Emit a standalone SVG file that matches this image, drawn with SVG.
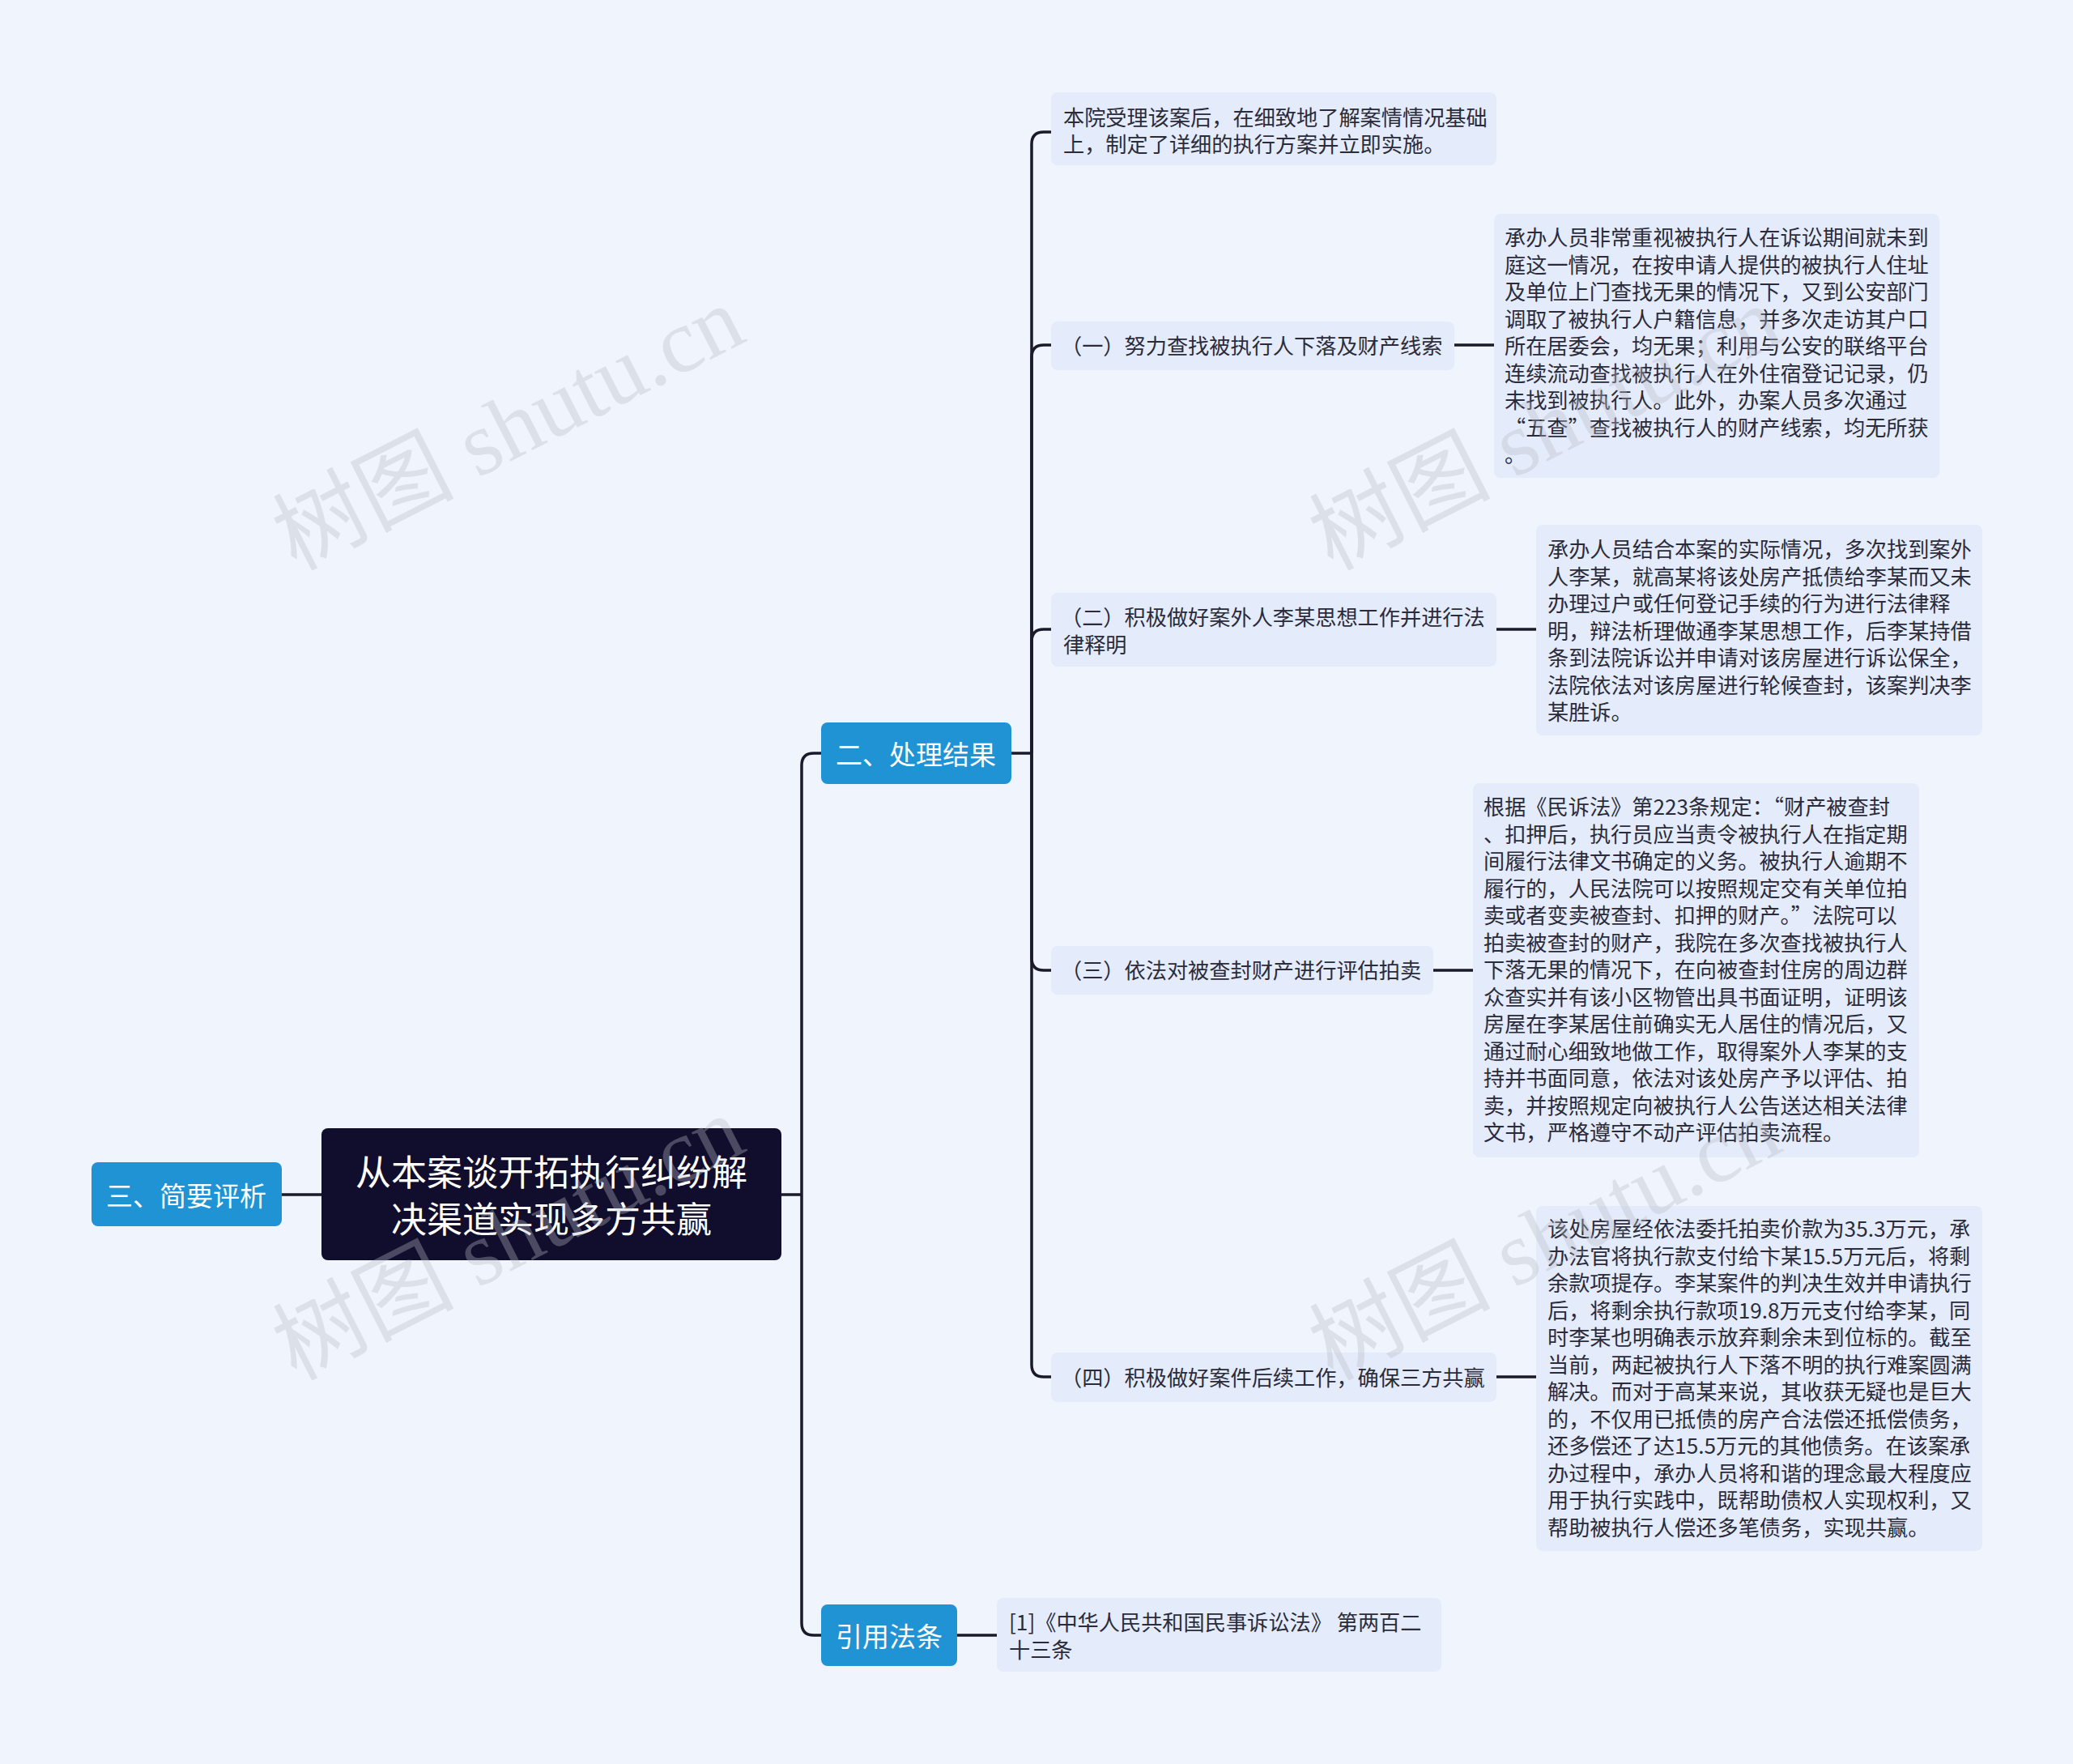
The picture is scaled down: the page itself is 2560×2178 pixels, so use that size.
<svg xmlns="http://www.w3.org/2000/svg" width="2560" height="2178" viewBox="0 0 2560 2178">
<style>
.t{font-family:"Noto Sans CJK SC","Noto Sans",sans-serif;font-size:26.2px;fill:#2b2b3a;dominant-baseline:central}
.leaf{fill:#e4ebfa}
.blue{fill:#1f93d4}
.bt{font-family:"Noto Sans CJK SC","Noto Sans",sans-serif;font-size:33px;fill:#fff;dominant-baseline:central;text-anchor:middle}
.c{fill:none;stroke:#1a1a2a;stroke-width:3.5}
.wm{font-family:"Liberation Serif","Noto Sans CJK SC",serif;font-size:112px;fill:#b8bcc6;opacity:0.35}
</style>
<rect width="2560" height="2178" fill="#f0f4fc"/>
<g id="connectors">
<path class="c" d="M965 1475 H990"/>
<path class="c" d="M990 1475 V945 Q990 930 1005 930 H1014"/>
<path class="c" d="M990 1475 V2004 Q990 2019 1005 2019 H1014"/>
<path class="c" d="M397 1475 H348"/>
<path class="c" d="M1249 930 H1274"/>
<path class="c" d="M1274 930 V178 Q1274 163 1289 163 H1298"/>
<path class="c" d="M1274 930 V441 Q1274 426 1289 426 H1298"/>
<path class="c" d="M1274 930 V792 Q1274 777 1289 777 H1298"/>
<path class="c" d="M1274 930 V1183 Q1274 1198 1289 1198 H1298"/>
<path class="c" d="M1274 930 V1685 Q1274 1700 1289 1700 H1298"/>
<path class="c" d="M1182 2019 H1231"/>
<path class="c" d="M1796 426 H1845"/>
<path class="c" d="M1848 777 H1897"/>
<path class="c" d="M1770 1198 H1819"/>
<path class="c" d="M1848 1700 H1897"/>
</g>
<g id="root">
<rect x="397" y="1393" width="568" height="163" rx="8" fill="#110d2c"/>
<text class="bt" x="681" y="1445" style="font-size:44px">从本案谈开拓执行纠纷解</text>
<text class="bt" x="681" y="1503" style="font-size:44px">决渠道实现多方共赢</text>
</g>
<g id="n-eval"><rect class="blue" x="113" y="1435" width="235" height="79" rx="8"/><text class="bt" x="230" y="1475">三、简要评析</text></g>
<g id="n-result"><rect class="blue" x="1014" y="892" width="235" height="76" rx="8"/><text class="bt" x="1131" y="930">二、处理结果</text></g>
<g id="n-law"><rect class="blue" x="1014" y="1981" width="168" height="76" rx="8"/><text class="bt" x="1098" y="2019">引用法条</text></g>
<g id="n-a"><rect class="leaf" x="1298" y="114" width="550" height="90" rx="8"/>
<text class="t" x="1313" y="144">本院受理该案后，在细致地了解案情情况基础</text>
<text class="t" x="1313" y="177">上，制定了详细的执行方案并立即实施。</text></g>
<g id="n-1"><rect class="leaf" x="1298" y="397" width="498" height="60" rx="8"/>
<text class="t" x="1310" y="426">（一）努力查找被执行人下落及财产线索</text></g>
<g id="d-1"><rect class="leaf" x="1845" y="264" width="550" height="326" rx="8"/>
<text class="t" x="1858" y="292">承办人员非常重视被执行人在诉讼期间就未到</text>
<text class="t" x="1858" y="325.5">庭这一情况，在按申请人提供的被执行人住址</text>
<text class="t" x="1858" y="359">及单位上门查找无果的情况下，又到公安部门</text>
<text class="t" x="1858" y="392.5">调取了被执行人户籍信息，并多次走访其户口</text>
<text class="t" x="1858" y="426">所在居委会，均无果；利用与公安的联络平台</text>
<text class="t" x="1858" y="459.5">连续流动查找被执行人在外住宿登记记录，仍</text>
<text class="t" x="1858" y="493">未找到被执行人。此外，办案人员多次通过</text>
<text class="t" x="1858" y="526.5">“五查”查找被执行人的财产线索，均无所获</text>
<text class="t" x="1858" y="560">。</text></g>
<g id="n-2"><rect class="leaf" x="1298" y="732" width="550" height="91" rx="8"/>
<text class="t" x="1310" y="761">（二）积极做好案外人李某思想工作并进行法</text>
<text class="t" x="1313" y="795">律释明</text></g>
<g id="d-2"><rect class="leaf" x="1897" y="648" width="551" height="260" rx="8"/>
<text class="t" x="1911" y="677">承办人员结合本案的实际情况，多次找到案外</text>
<text class="t" x="1911" y="710.5">人李某，就高某将该处房产抵债给李某而又未</text>
<text class="t" x="1911" y="744">办理过户或任何登记手续的行为进行法律释</text>
<text class="t" x="1911" y="777.5">明，辩法析理做通李某思想工作，后李某持借</text>
<text class="t" x="1911" y="811">条到法院诉讼并申请对该房屋进行诉讼保全，</text>
<text class="t" x="1911" y="844.5">法院依法对该房屋进行轮候查封，该案判决李</text>
<text class="t" x="1911" y="878">某胜诉。</text></g>
<g id="n-3"><rect class="leaf" x="1298" y="1168" width="472" height="60" rx="8"/>
<text class="t" x="1310" y="1197">（三）依法对被查封财产进行评估拍卖</text></g>
<g id="d-3"><rect class="leaf" x="1819" y="967" width="551" height="462" rx="8"/>
<text class="t" x="1832" y="995">根据《民诉法》第223条规定：“财产被查封</text>
<text class="t" x="1832" y="1028.5">、扣押后，执行员应当责令被执行人在指定期</text>
<text class="t" x="1832" y="1062">间履行法律文书确定的义务。被执行人逾期不</text>
<text class="t" x="1832" y="1095.5">履行的，人民法院可以按照规定交有关单位拍</text>
<text class="t" x="1832" y="1129">卖或者变卖被查封、扣押的财产。”法院可以</text>
<text class="t" x="1832" y="1162.5">拍卖被查封的财产，我院在多次查找被执行人</text>
<text class="t" x="1832" y="1196">下落无果的情况下，在向被查封住房的周边群</text>
<text class="t" x="1832" y="1229.5">众查实并有该小区物管出具书面证明，证明该</text>
<text class="t" x="1832" y="1263">房屋在李某居住前确实无人居住的情况后，又</text>
<text class="t" x="1832" y="1296.5">通过耐心细致地做工作，取得案外人李某的支</text>
<text class="t" x="1832" y="1330">持并书面同意，依法对该处房产予以评估、拍</text>
<text class="t" x="1832" y="1363.5">卖，并按照规定向被执行人公告送达相关法律</text>
<text class="t" x="1832" y="1397">文书，严格遵守不动产评估拍卖流程。</text></g>
<g id="n-4"><rect class="leaf" x="1298" y="1670" width="550" height="61" rx="8"/>
<text class="t" x="1310" y="1700">（四）积极做好案件后续工作，确保三方共赢</text></g>
<g id="d-4"><rect class="leaf" x="1897" y="1489" width="551" height="426" rx="8"/>
<text class="t" x="1911" y="1516">该处房屋经依法委托拍卖价款为35.3万元，承</text>
<text class="t" x="1911" y="1549.5">办法官将执行款支付给卞某15.5万元后，将剩</text>
<text class="t" x="1911" y="1583">余款项提存。李某案件的判决生效并申请执行</text>
<text class="t" x="1911" y="1616.5">后，将剩余执行款项19.8万元支付给李某，同</text>
<text class="t" x="1911" y="1650">时李某也明确表示放弃剩余未到位标的。截至</text>
<text class="t" x="1911" y="1683.5">当前，两起被执行人下落不明的执行难案圆满</text>
<text class="t" x="1911" y="1717">解决。而对于高某来说，其收获无疑也是巨大</text>
<text class="t" x="1911" y="1750.5">的，不仅用已抵债的房产合法偿还抵偿债务，</text>
<text class="t" x="1911" y="1784">还多偿还了达15.5万元的其他债务。在该案承</text>
<text class="t" x="1911" y="1817.5">办过程中，承办人员将和谐的理念最大程度应</text>
<text class="t" x="1911" y="1851">用于执行实践中，既帮助债权人实现权利，又</text>
<text class="t" x="1911" y="1884.5">帮助被执行人偿还多笔债务，实现共赢。</text></g>
<g id="n-cite"><rect class="leaf" x="1231" y="1973" width="549" height="91" rx="8"/>
<text class="t" x="1246" y="2002">[1]《中华人民共和国民事诉讼法》 第两百二</text>
<text class="t" x="1246" y="2036">十三条</text></g>
<g id="watermarks">
<text class="wm" transform="translate(365,705) rotate(-27)">树图 shutu.cn</text>
<text class="wm" transform="translate(1645,705) rotate(-27)">树图 shutu.cn</text>
<text class="wm" transform="translate(365,1705) rotate(-27)">树图 shutu.cn</text>
<text class="wm" transform="translate(1645,1705) rotate(-27)">树图 shutu.cn</text>
</g>
</svg>
